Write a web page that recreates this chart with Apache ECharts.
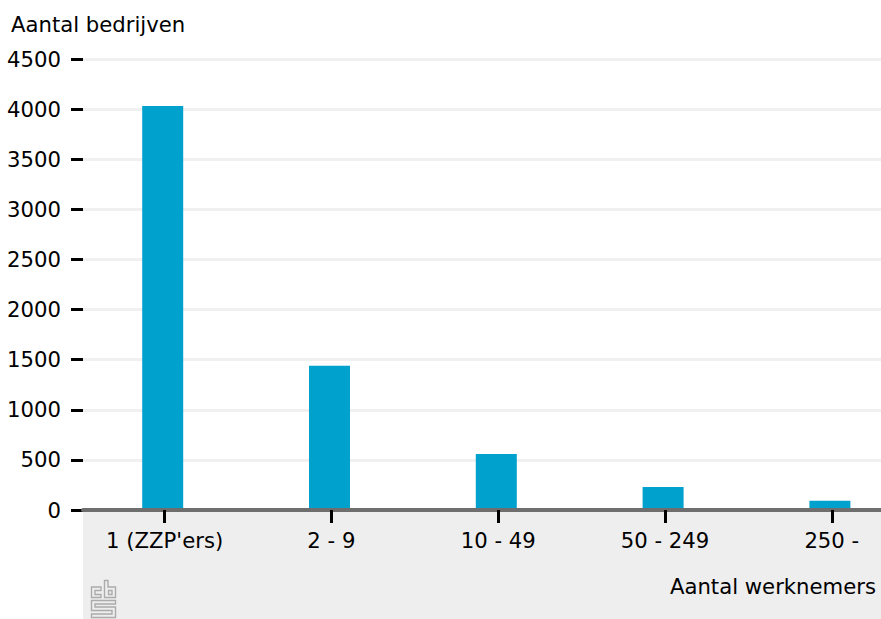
<!DOCTYPE html>
<html>
<head>
<meta charset="utf-8">
<style>
  html, body { margin: 0; padding: 0; background: #fff; }
  #chart { width: 881px; height: 619px; }
</style>
<script src="https://cdn.jsdelivr.net/npm/echarts@6/dist/echarts.min.js"></script>
</head>
<body>
<div id="chart"></div>
<script>
  var categories = ["1 (ZZP'ers)", '2 - 9', '10 - 49', '50 - 249', '250 -'];
  var bedrijven = [4030, 1440, 560, 230, 92];

  var font = '"DejaVu Sans"';
  var fontSize = 21.2;
  var logoStyle = {fill: 'none', stroke: '#ababab', lineWidth: 1.4};
  var myChart = echarts.init(document.getElementById('chart'), null, {renderer: 'svg'});

  function logoPart(points) {
    return {type: 'polygon', z: 3, shape: {points: points}, style: logoStyle};
  }

  // the original has its bars slightly left of the ticks, and is cut off on the right,
  // so: grid 0 = frame, grid 1 = bars, grid 2 = ticks and labels
  myChart.setOption({
    animation: false,
    title: [
      {text: 'Aantal bedrijven', left: 6, top: 9, textStyle: {fontFamily: font, fontSize: fontSize, fontWeight: 'normal', color: '#000'}},
      {text: 'Aantal werknemers', right: 0, top: 571, textStyle: {fontFamily: font, fontSize: fontSize, fontWeight: 'normal', color: '#000'}}
    ],
    grid: [
      {left: 83, right: 0, top: 59, bottom: 109, outerBoundsMode: 'none'},
      {left: 79.3, width: 834, top: 59, bottom: 109, outerBoundsMode: 'none'},
      {left: 81.2, width: 834, top: 59, bottom: 109, outerBoundsMode: 'none'}
    ],
    xAxis: [
      {gridIndex: 0, type: 'category', data: categories, z: 5,
        axisLine: {lineStyle: {color: '#6e6e6e', width: 4}}, axisTick: {show: false}, axisLabel: {show: false}},
      {gridIndex: 1, type: 'category', data: categories,
        axisLine: {show: false}, axisTick: {show: false}, axisLabel: {show: false}},
      {gridIndex: 2, type: 'category', data: categories, z: 6,
        axisLine: {show: false},
        axisTick: {show: true, alignWithLabel: true, length: 13, lineStyle: {color: '#000', width: 3}},
        axisLabel: {show: true, interval: 0, margin: 20, color: '#000', fontFamily: font, fontSize: fontSize}}
    ],
    yAxis: [
      {gridIndex: 0, type: 'value', min: 0, max: 4500, interval: 500,
        axisLine: {show: false},
        axisTick: {show: true, length: 12, lineStyle: {color: '#000', width: 3}},
        axisLabel: {margin: 22, color: '#000', fontFamily: font, fontSize: fontSize, formatter: function (v) { return String(v); }},
        splitLine: {lineStyle: {color: '#f0f0f0', width: 3}}},
      {gridIndex: 1, type: 'value', min: 0, max: 4500, interval: 500, show: false},
      {gridIndex: 2, type: 'value', min: 0, max: 4500, interval: 500, show: false}
    ],
    series: [
      {type: 'bar', xAxisIndex: 1, yAxisIndex: 1, data: bedrijven, barWidth: 41, itemStyle: {color: '#00a1cd'}}
    ],
    graphic: [
      {type: 'rect', z: -1, shape: {x: 83, y: 510, width: 798, height: 109}, style: {fill: '#eeeeee'}},
      // cbs logo
      logoPart([[101, 587], [91.5, 587], [91.5, 597.5], [101, 597.5], [101, 594.5], [95, 594.5], [95, 590.5], [101, 590.5]]),
      logoPart([[104.5, 580.5], [108, 580.5], [108, 587], [115.5, 587], [115.5, 597.5], [104.5, 597.5]]),
      logoPart([[108.5, 590.5], [112, 590.5], [112, 594.5], [108.5, 594.5]]),
      logoPart([[91.5, 600.5], [115.5, 600.5], [115.5, 604], [95, 604], [95, 607], [115.5, 607], [115.5, 617.5], [91.5, 617.5], [91.5, 614], [112, 614], [112, 610.5], [91.5, 610.5]])
    ]
  });
</script>
</body>
</html>
